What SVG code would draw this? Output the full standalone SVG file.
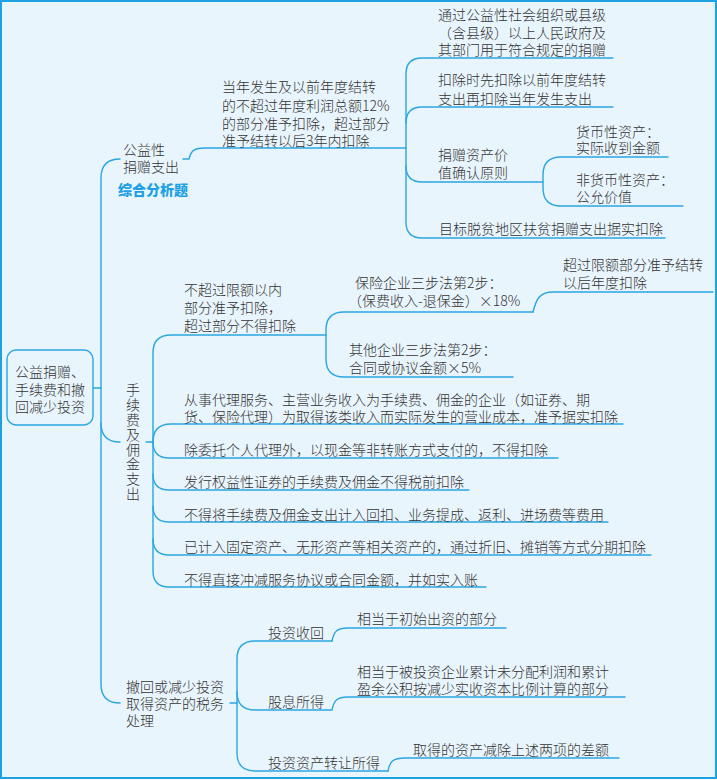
<svg xmlns="http://www.w3.org/2000/svg" width="717" height="780" viewBox="0 0 717 780">
<style>
.t{font-family:"Noto Sans CJK SC","Noto Sans CJK TC",sans-serif;font-size:14px;font-weight:300;fill:#333333}
.b{font-family:"Noto Sans CJK SC",sans-serif;font-size:14px;font-weight:900;fill:#1DA1E2}
.c{fill:none;stroke:#2AA6E2;stroke-width:1.4;stroke-linecap:round}
</style>
<rect x="1" y="1" width="715" height="777" fill="#E9F5FD" stroke="#1DA1E2" stroke-width="2"/>
<g id="connectors" class="c">
<path d="M93,388 H101"/>
<path d="M120,159 Q101,159 101,178 V684 Q101,703 120,703"/>
<path d="M101,423 Q101,442 120,442"/>
<path d="M183,159 H189 C191,150 195,148 205,148 H406"/>
<path d="M613,58 H422 Q406,58 406,74 V222 Q406,238 422,238 H665"/>
<path d="M406,123 Q406,107 422,107 H613"/>
<path d="M406,166 Q406,182 422,182 H543"/>
<path d="M668,157 H561 Q543,157 543,175 V188 Q543,206 561,206 H683"/>
<path d="M146,442 H153"/>
<path d="M326,335 H171 Q153,335 153,353 V571 Q153,587 169,587 H486"/>
<path d="M153,442 Q153,424 171,424 H623"/>
<path d="M153,442 Q153,458 169,458 H558"/>
<path d="M153,474 Q153,490 169,490 H469"/>
<path d="M153,506 Q153,522 169,522 H608"/>
<path d="M153,539 Q153,555 169,555 H651"/>
<path d="M533,312 H344 Q326,312 326,330 V359 Q326,377 344,377 H513"/>
<path d="M533,312 C536,300 539,292 553,292 H713"/>
<path d="M230,703 H237"/>
<path d="M332,641 H255 Q237,641 237,659 V753 Q237,771 255,771 H388"/>
<path d="M332,641 C334,631 337,628 348,628 H506"/>
<path d="M237,692 Q237,710 255,710 H332 C334,700 337,697 348,697 H625"/>
<path d="M388,771 C390,761 393,758 405,758 H619"/>
</g>
<g id="root">
<rect x="7" y="350" width="86" height="75" rx="9" fill="#E9F5FD" stroke="#2AA6E2" stroke-width="1.4"/>
<text class="t"><tspan x="15" y="377">公益捐赠、</tspan><tspan x="15" y="394.5">手续费和撤</tspan><tspan x="15" y="412">回减少投资</tspan></text>
</g>
<g id="n-gongyi">
<text class="t"><tspan x="123" y="155">公益性</tspan><tspan x="123" y="172">捐赠支出</tspan></text>
<text class="b" x="118" y="195">综合分析题</text>
</g>
<g id="n-gongyi-limit">
<text class="t"><tspan x="222" y="92">当年发生及以前年度结转</tspan><tspan x="222" y="110.5">的不超过年度利润总额12%</tspan><tspan x="222" y="128.5">的部分准予扣除，超过部分</tspan><tspan x="222" y="146">准予结转以后3年内扣除</tspan></text>
</g>
<g id="n-g1">
<text class="t"><tspan x="438" y="20">通过公益性社会组织或县级</tspan><tspan x="438" y="37.5">（含县级）以上人民政府及</tspan><tspan x="438" y="55">其部门用于符合规定的捐赠</tspan></text>
</g>
<g id="n-g2">
<text class="t"><tspan x="438" y="85">扣除时先扣除以前年度结转</tspan><tspan x="438" y="104">支出再扣除当年发生支出</tspan></text>
</g>
<g id="n-g3">
<text class="t"><tspan x="438" y="160">捐赠资产价</tspan><tspan x="438" y="178">值确认原则</tspan></text>
</g>
<g id="n-g3a">
<text class="t"><tspan x="576" y="137">货币性资产：</tspan><tspan x="576" y="152.5">实际收到金额</tspan></text>
</g>
<g id="n-g3b">
<text class="t"><tspan x="576" y="185">非货币性资产：</tspan><tspan x="576" y="202">公允价值</tspan></text>
</g>
<g id="n-g4">
<text class="t" x="439" y="234">目标脱贫地区扶贫捐赠支出据实扣除</text>
</g>
<g id="n-fee">
<text class="t" x="133" y="383" writing-mode="tb" letter-spacing="0.8">手续费及佣金支出</text>
</g>
<g id="n-f1">
<text class="t"><tspan x="184" y="295">不超过限额以内</tspan><tspan x="184" y="313">部分准予扣除，</tspan><tspan x="184" y="331">超过部分不得扣除</tspan></text>
</g>
<g id="n-f1a">
<text class="t"><tspan x="355" y="288">保险企业三步法第2步：</tspan><tspan x="348" y="306">（保费收入-退保金）×18%</tspan></text>
</g>
<g id="n-f1a1">
<text class="t"><tspan x="563" y="270">超过限额部分准予结转</tspan><tspan x="563" y="288">以后年度扣除</tspan></text>
</g>
<g id="n-f1b">
<text class="t"><tspan x="349" y="355">其他企业三步法第2步：</tspan><tspan x="349" y="373">合同或协议金额×5%</tspan></text>
</g>
<g id="n-f2">
<text class="t"><tspan x="184" y="405">从事代理服务、主营业务收入为手续费、佣金的企业（如证券、期</tspan><tspan x="184" y="421.5">货、保险代理）为取得该类收入而实际发生的营业成本，准予据实扣除</tspan></text>
</g>
<g id="n-f3"><text class="t" x="184" y="455">除委托个人代理外，以现金等非转账方式支付的，不得扣除</text></g>
<g id="n-f4"><text class="t" x="184" y="487">发行权益性证券的手续费及佣金不得税前扣除</text></g>
<g id="n-f5"><text class="t" x="184" y="520">不得将手续费及佣金支出计入回扣、业务提成、返利、进场费等费用</text></g>
<g id="n-f6"><text class="t" x="184" y="552">已计入固定资产、无形资产等相关资产的，通过折旧、摊销等方式分期扣除</text></g>
<g id="n-f7"><text class="t" x="184" y="585">不得直接冲减服务协议或合同金额，并如实入账</text></g>
<g id="n-inv">
<text class="t"><tspan x="126" y="692">撤回或减少投资</tspan><tspan x="126" y="709">取得资产的税务</tspan><tspan x="126" y="726">处理</tspan></text>
</g>
<g id="n-i1"><text class="t" x="268" y="638">投资收回</text></g>
<g id="n-i1a"><text class="t" x="357" y="624">相当于初始出资的部分</text></g>
<g id="n-i2"><text class="t" x="268" y="707">股息所得</text></g>
<g id="n-i2a">
<text class="t"><tspan x="357" y="677">相当于被投资企业累计未分配利润和累计</tspan><tspan x="357" y="693.5">盈余公积按减少实收资本比例计算的部分</tspan></text>
</g>
<g id="n-i3"><text class="t" x="268" y="768">投资资产转让所得</text></g>
<g id="n-i3a"><text class="t" x="413" y="755">取得的资产减除上述两项的差额</text></g>
</svg>
